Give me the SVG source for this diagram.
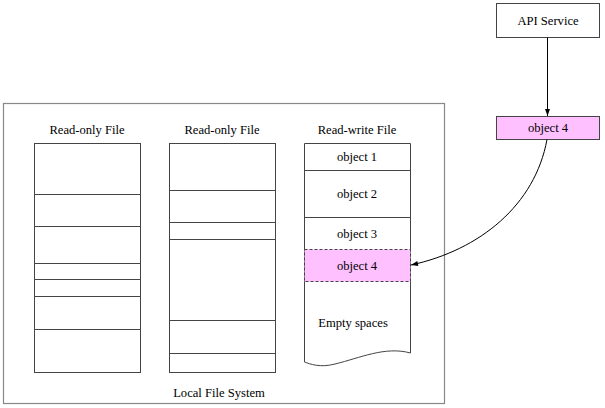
<svg xmlns="http://www.w3.org/2000/svg" width="605" height="408" viewBox="0 0 605 408">
<defs>
<style>
.t{font-family:'Liberation Serif','DejaVu Serif','Times New Roman',serif;font-size:12.6px;fill:#000;text-anchor:middle}
.box{fill:#fff;stroke:#444;stroke-width:1}
.ln{stroke:#444;stroke-width:1;fill:none}
.pink{fill:#ffc0ff;stroke:#444;stroke-width:1}
.edge{stroke:#000;stroke-width:1;fill:none}
</style>
<marker id="ah" viewBox="0 0 10 10" refX="10" refY="5" markerWidth="8" markerHeight="7" orient="auto" markerUnits="userSpaceOnUse">
<path d="M0,1.5 L10,5 L0,8.5 z" fill="#000"/>
</marker>
</defs>
<rect width="605" height="408" fill="#fff"/>
<g id="local-fs">
<rect x="3.5" y="103.5" width="441" height="300" fill="none" stroke="#888" stroke-width="1.2"/>
<text class="t" x="219" y="397">Local File System</text>
</g>
<g id="file1">
<text class="t" x="87" y="134">Read-only File</text>
<rect class="box" x="34.5" y="143.5" width="106" height="229"/>
<path class="ln" d="M34.5,194.5H140.5M34.5,226.5H140.5M34.5,263.5H140.5M34.5,279.5H140.5M34.5,296.5H140.5M34.5,329.5H140.5"/>
</g>
<g id="file2">
<text class="t" x="222" y="134">Read-only File</text>
<rect class="box" x="169.5" y="143.5" width="106" height="229"/>
<path class="ln" d="M169.5,190.5H275.5M169.5,222.5H275.5M169.5,239.5H275.5M169.5,320.5H275.5M169.5,353.5H275.5"/>
</g>
<g id="file3">
<text class="t" x="357" y="134">Read-write File</text>
<path class="box" d="M304.5,143.5H410.5V353C385,346 360,358 335,364 C320,368 310,364 304.5,362Z"/>
<path class="ln" d="M304.5,170.5H410.5M304.5,217.5H410.5"/>
<text class="t" x="357" y="161">object 1</text>
<text class="t" x="357" y="198">object 2</text>
<text class="t" x="357" y="238">object 3</text>
<rect x="304.5" y="249.5" width="106" height="32" fill="#ffc0ff" stroke="#444" stroke-dasharray="3,2"/>
<text class="t" x="357" y="270">object 4</text>
<text class="t" x="353" y="327">Empty spaces</text>
</g>
<g id="api">
<rect class="box" x="496.5" y="3.5" width="103" height="34"/>
<text class="t" x="548" y="25">API Service</text>
</g>
<g id="obj4">
<rect class="pink" x="496.5" y="116.5" width="103" height="23"/>
<text class="t" x="548" y="132">object 4</text>
</g>
<g id="connectors">
<path class="edge" d="M547.5,37.5V116" marker-end="url(#ah)"/>
<path class="edge" d="M547,139.5 C535,205 480,250 411,265" marker-end="url(#ah)"/>
</g>
</svg>
